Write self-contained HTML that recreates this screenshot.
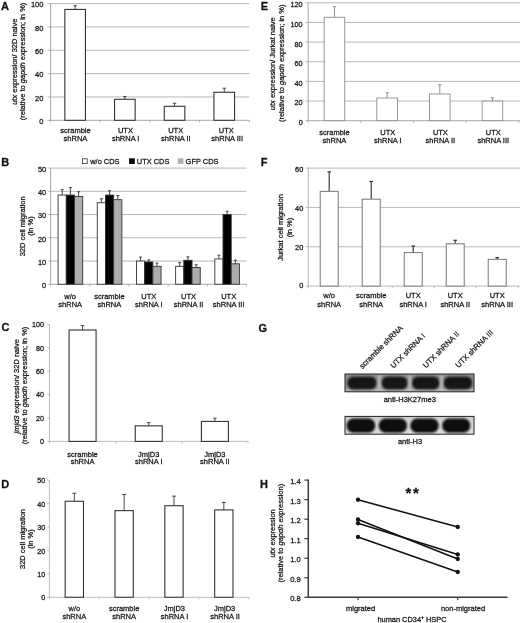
<!DOCTYPE html>
<html><head><meta charset="utf-8"><title>Figure</title>
<style>html,body{margin:0;padding:0;background:#fff}svg{display:block;filter:blur(0.35px)}text{font-family:'Liberation Sans', Arial, sans-serif;stroke:#1a1a1a;stroke-width:0.28px;stroke-linejoin:round}</style>
</head><body>
<svg width="520" height="623" viewBox="0 0 520 623">
<rect width="520" height="623" fill="#fff"/>
<text x="0.90" y="10.10" font-size="11" text-anchor="start" font-weight="bold" fill="#111" >A</text>
<text x="43.30" y="124.15" font-size="7.4" text-anchor="end" font-weight="normal" fill="#1a1a1a" >0</text>
<line x1="47.50" y1="96.96" x2="249.40" y2="96.96" stroke="#b8b8b8" stroke-width="1" />
<text x="43.30" y="100.81" font-size="7.4" text-anchor="end" font-weight="normal" fill="#1a1a1a" >20</text>
<line x1="47.50" y1="73.62" x2="249.40" y2="73.62" stroke="#b8b8b8" stroke-width="1" />
<text x="43.30" y="77.47" font-size="7.4" text-anchor="end" font-weight="normal" fill="#1a1a1a" >40</text>
<line x1="47.50" y1="50.28" x2="249.40" y2="50.28" stroke="#b8b8b8" stroke-width="1" />
<text x="43.30" y="54.13" font-size="7.4" text-anchor="end" font-weight="normal" fill="#1a1a1a" >60</text>
<line x1="47.50" y1="26.94" x2="249.40" y2="26.94" stroke="#b8b8b8" stroke-width="1" />
<text x="43.30" y="30.79" font-size="7.4" text-anchor="end" font-weight="normal" fill="#1a1a1a" >80</text>
<line x1="47.50" y1="3.60" x2="249.40" y2="3.60" stroke="#b8b8b8" stroke-width="1" />
<text x="43.30" y="7.45" font-size="7.4" text-anchor="end" font-weight="normal" fill="#1a1a1a" >100</text>
<line x1="50.60" y1="3.60" x2="50.60" y2="120.30" stroke="#a8a8a8" stroke-width="1" />
<line x1="47.50" y1="120.30" x2="249.40" y2="120.30" stroke="#a8a8a8" stroke-width="1" />
<line x1="50.60" y1="120.30" x2="50.60" y2="122.30" stroke="#a8a8a8" stroke-width="1" />
<line x1="100.30" y1="120.30" x2="100.30" y2="122.30" stroke="#a8a8a8" stroke-width="1" />
<line x1="150.00" y1="120.30" x2="150.00" y2="122.30" stroke="#a8a8a8" stroke-width="1" />
<line x1="199.70" y1="120.30" x2="199.70" y2="122.30" stroke="#a8a8a8" stroke-width="1" />
<line x1="249.40" y1="120.30" x2="249.40" y2="122.30" stroke="#a8a8a8" stroke-width="1" />
<line x1="75.15" y1="9.43" x2="75.15" y2="5.70" stroke="#333" stroke-width="0.9" />
<line x1="73.45" y1="5.70" x2="76.85" y2="5.70" stroke="#333" stroke-width="0.9" />
<rect x="64.85" y="9.43" width="20.60" height="110.87" fill="#fff" stroke="#333" stroke-width="1.1"/>
<text x="75.45" y="132.60" font-size="7.5" text-anchor="middle" font-weight="normal" fill="#1a1a1a" >scramble</text>
<text x="75.45" y="140.60" font-size="7.5" text-anchor="middle" font-weight="normal" fill="#1a1a1a" >shRNA</text>
<line x1="124.85" y1="99.29" x2="124.85" y2="96.49" stroke="#333" stroke-width="0.9" />
<line x1="123.15" y1="96.49" x2="126.55" y2="96.49" stroke="#333" stroke-width="0.9" />
<rect x="114.55" y="99.29" width="20.60" height="21.01" fill="#fff" stroke="#333" stroke-width="1.1"/>
<text x="125.45" y="132.60" font-size="7.5" text-anchor="middle" font-weight="normal" fill="#1a1a1a" >UTX</text>
<text x="125.65" y="140.60" font-size="7.5" text-anchor="middle" font-weight="normal" fill="#1a1a1a" >shRNA I</text>
<line x1="174.55" y1="106.30" x2="174.55" y2="103.26" stroke="#333" stroke-width="0.9" />
<line x1="172.85" y1="103.26" x2="176.25" y2="103.26" stroke="#333" stroke-width="0.9" />
<rect x="164.25" y="106.30" width="20.60" height="14.00" fill="#fff" stroke="#333" stroke-width="1.1"/>
<text x="175.65" y="132.60" font-size="7.5" text-anchor="middle" font-weight="normal" fill="#1a1a1a" >UTX</text>
<text x="175.85" y="140.60" font-size="7.5" text-anchor="middle" font-weight="normal" fill="#1a1a1a" >shRNA II</text>
<line x1="224.25" y1="92.29" x2="224.25" y2="88.21" stroke="#333" stroke-width="0.9" />
<line x1="222.55" y1="88.21" x2="225.95" y2="88.21" stroke="#333" stroke-width="0.9" />
<rect x="213.95" y="92.29" width="20.60" height="28.01" fill="#fff" stroke="#333" stroke-width="1.1"/>
<text x="226.25" y="132.60" font-size="7.5" text-anchor="middle" font-weight="normal" fill="#1a1a1a" >UTX</text>
<text x="227.15" y="140.60" font-size="7.5" text-anchor="middle" font-weight="normal" fill="#1a1a1a" >shRNA III</text>
<text transform="translate(16.80,61.70) rotate(-90)" font-size="7.5" text-anchor="middle" fill="#1a1a1a"><tspan font-style="italic">utx</tspan> expression/ 32D naive</text>
<text transform="translate(24.90,61.50) rotate(-90)" font-size="7.5" text-anchor="middle" fill="#1a1a1a">(relative to <tspan font-style="italic">gapdh</tspan> expression; in %)</text>
<text x="1.30" y="165.70" font-size="11" text-anchor="start" font-weight="bold" fill="#111" >B</text>
<text x="46.20" y="288.15" font-size="7.4" text-anchor="end" font-weight="normal" fill="#1a1a1a" >0</text>
<line x1="48.10" y1="261.02" x2="246.50" y2="261.02" stroke="#b8b8b8" stroke-width="1" />
<text x="46.20" y="264.92" font-size="7.4" text-anchor="end" font-weight="normal" fill="#1a1a1a" >10</text>
<line x1="48.10" y1="237.79" x2="246.50" y2="237.79" stroke="#b8b8b8" stroke-width="1" />
<text x="46.20" y="241.69" font-size="7.4" text-anchor="end" font-weight="normal" fill="#1a1a1a" >20</text>
<line x1="48.10" y1="214.56" x2="246.50" y2="214.56" stroke="#b8b8b8" stroke-width="1" />
<text x="46.20" y="218.46" font-size="7.4" text-anchor="end" font-weight="normal" fill="#1a1a1a" >30</text>
<line x1="48.10" y1="191.33" x2="246.50" y2="191.33" stroke="#b8b8b8" stroke-width="1" />
<text x="46.20" y="195.23" font-size="7.4" text-anchor="end" font-weight="normal" fill="#1a1a1a" >40</text>
<line x1="48.10" y1="168.10" x2="246.50" y2="168.10" stroke="#b8b8b8" stroke-width="1" />
<text x="46.20" y="172.00" font-size="7.4" text-anchor="end" font-weight="normal" fill="#1a1a1a" >50</text>
<line x1="50.60" y1="168.10" x2="50.60" y2="284.25" stroke="#a8a8a8" stroke-width="1" />
<line x1="48.10" y1="284.25" x2="246.50" y2="284.25" stroke="#a8a8a8" stroke-width="1" />
<line x1="50.60" y1="284.25" x2="50.60" y2="286.25" stroke="#a8a8a8" stroke-width="1" />
<line x1="89.78" y1="284.25" x2="89.78" y2="286.25" stroke="#a8a8a8" stroke-width="1" />
<line x1="128.96" y1="284.25" x2="128.96" y2="286.25" stroke="#a8a8a8" stroke-width="1" />
<line x1="168.14" y1="284.25" x2="168.14" y2="286.25" stroke="#a8a8a8" stroke-width="1" />
<line x1="207.32" y1="284.25" x2="207.32" y2="286.25" stroke="#a8a8a8" stroke-width="1" />
<line x1="246.50" y1="284.25" x2="246.50" y2="286.25" stroke="#a8a8a8" stroke-width="1" />
<line x1="62.19" y1="195.05" x2="62.19" y2="189.70" stroke="#333" stroke-width="0.9" />
<line x1="60.69" y1="189.70" x2="63.69" y2="189.70" stroke="#333" stroke-width="0.9" />
<rect x="58.09" y="195.05" width="8.20" height="89.20" fill="#fff" stroke="#333" stroke-width="0.9"/>
<line x1="70.39" y1="195.05" x2="70.39" y2="187.61" stroke="#333" stroke-width="0.9" />
<line x1="68.89" y1="187.61" x2="71.89" y2="187.61" stroke="#333" stroke-width="0.9" />
<rect x="66.29" y="195.05" width="8.20" height="89.20" fill="#000" stroke="#333" stroke-width="0.9"/>
<line x1="78.59" y1="196.44" x2="78.59" y2="191.79" stroke="#333" stroke-width="0.9" />
<line x1="77.09" y1="191.79" x2="80.09" y2="191.79" stroke="#333" stroke-width="0.9" />
<rect x="74.49" y="196.44" width="8.20" height="87.81" fill="#adadad" stroke="#333" stroke-width="0.9"/>
<text x="70.19" y="298.80" font-size="7.5" text-anchor="middle" font-weight="normal" fill="#1a1a1a" >w/o</text>
<text x="70.19" y="307.10" font-size="7.5" text-anchor="middle" font-weight="normal" fill="#1a1a1a" >shRNA</text>
<line x1="101.37" y1="202.71" x2="101.37" y2="198.76" stroke="#333" stroke-width="0.9" />
<line x1="99.87" y1="198.76" x2="102.87" y2="198.76" stroke="#333" stroke-width="0.9" />
<rect x="97.27" y="202.71" width="8.20" height="81.54" fill="#fff" stroke="#333" stroke-width="0.9"/>
<line x1="109.57" y1="195.05" x2="109.57" y2="190.75" stroke="#333" stroke-width="0.9" />
<line x1="108.07" y1="190.75" x2="111.07" y2="190.75" stroke="#333" stroke-width="0.9" />
<rect x="105.47" y="195.05" width="8.20" height="89.20" fill="#000" stroke="#333" stroke-width="0.9"/>
<line x1="117.77" y1="199.69" x2="117.77" y2="195.51" stroke="#333" stroke-width="0.9" />
<line x1="116.27" y1="195.51" x2="119.27" y2="195.51" stroke="#333" stroke-width="0.9" />
<rect x="113.67" y="199.69" width="8.20" height="84.56" fill="#adadad" stroke="#333" stroke-width="0.9"/>
<text x="109.37" y="298.80" font-size="7.5" text-anchor="middle" font-weight="normal" fill="#1a1a1a" >scramble</text>
<text x="109.37" y="307.10" font-size="7.5" text-anchor="middle" font-weight="normal" fill="#1a1a1a" >shRNA</text>
<line x1="140.55" y1="261.02" x2="140.55" y2="257.07" stroke="#333" stroke-width="0.9" />
<line x1="139.05" y1="257.07" x2="142.05" y2="257.07" stroke="#333" stroke-width="0.9" />
<rect x="136.45" y="261.02" width="8.20" height="23.23" fill="#fff" stroke="#333" stroke-width="0.9"/>
<line x1="148.75" y1="261.95" x2="148.75" y2="259.86" stroke="#333" stroke-width="0.9" />
<line x1="147.25" y1="259.86" x2="150.25" y2="259.86" stroke="#333" stroke-width="0.9" />
<rect x="144.65" y="261.95" width="8.20" height="22.30" fill="#000" stroke="#333" stroke-width="0.9"/>
<line x1="156.95" y1="266.36" x2="156.95" y2="263.11" stroke="#333" stroke-width="0.9" />
<line x1="155.45" y1="263.11" x2="158.45" y2="263.11" stroke="#333" stroke-width="0.9" />
<rect x="152.85" y="266.36" width="8.20" height="17.89" fill="#adadad" stroke="#333" stroke-width="0.9"/>
<text x="148.85" y="298.80" font-size="7.5" text-anchor="middle" font-weight="normal" fill="#1a1a1a" >UTX</text>
<text x="148.85" y="307.10" font-size="7.5" text-anchor="middle" font-weight="normal" fill="#1a1a1a" >shRNA I</text>
<line x1="179.73" y1="266.36" x2="179.73" y2="262.65" stroke="#333" stroke-width="0.9" />
<line x1="178.23" y1="262.65" x2="181.23" y2="262.65" stroke="#333" stroke-width="0.9" />
<rect x="175.63" y="266.36" width="8.20" height="17.89" fill="#fff" stroke="#333" stroke-width="0.9"/>
<line x1="187.93" y1="260.32" x2="187.93" y2="256.84" stroke="#333" stroke-width="0.9" />
<line x1="186.43" y1="256.84" x2="189.43" y2="256.84" stroke="#333" stroke-width="0.9" />
<rect x="183.83" y="260.32" width="8.20" height="23.93" fill="#000" stroke="#333" stroke-width="0.9"/>
<line x1="196.13" y1="267.52" x2="196.13" y2="264.74" stroke="#333" stroke-width="0.9" />
<line x1="194.63" y1="264.74" x2="197.63" y2="264.74" stroke="#333" stroke-width="0.9" />
<rect x="192.03" y="267.52" width="8.20" height="16.73" fill="#adadad" stroke="#333" stroke-width="0.9"/>
<text x="188.53" y="298.80" font-size="7.5" text-anchor="middle" font-weight="normal" fill="#1a1a1a" >UTX</text>
<text x="188.53" y="307.10" font-size="7.5" text-anchor="middle" font-weight="normal" fill="#1a1a1a" >shRNA II</text>
<line x1="218.91" y1="258.93" x2="218.91" y2="255.21" stroke="#333" stroke-width="0.9" />
<line x1="217.41" y1="255.21" x2="220.41" y2="255.21" stroke="#333" stroke-width="0.9" />
<rect x="214.81" y="258.93" width="8.20" height="25.32" fill="#fff" stroke="#333" stroke-width="0.9"/>
<line x1="227.11" y1="214.56" x2="227.11" y2="211.31" stroke="#333" stroke-width="0.9" />
<line x1="225.61" y1="211.31" x2="228.61" y2="211.31" stroke="#333" stroke-width="0.9" />
<rect x="223.01" y="214.56" width="8.20" height="69.69" fill="#000" stroke="#333" stroke-width="0.9"/>
<line x1="235.31" y1="263.81" x2="235.31" y2="260.09" stroke="#333" stroke-width="0.9" />
<line x1="233.81" y1="260.09" x2="236.81" y2="260.09" stroke="#333" stroke-width="0.9" />
<rect x="231.21" y="263.81" width="8.20" height="20.44" fill="#adadad" stroke="#333" stroke-width="0.9"/>
<text x="228.71" y="298.80" font-size="7.5" text-anchor="middle" font-weight="normal" fill="#1a1a1a" >UTX</text>
<text x="228.71" y="307.10" font-size="7.5" text-anchor="middle" font-weight="normal" fill="#1a1a1a" >shRNA III</text>
<rect x="82.40" y="158.80" width="4.80" height="4.80" fill="#fff" stroke="#333" stroke-width="0.8"/>
<text x="90.20" y="163.90" font-size="7.45" text-anchor="start" font-weight="normal" fill="#1a1a1a" >w/o CDS</text>
<rect x="129.50" y="158.80" width="4.80" height="4.80" fill="#000" stroke="#000" stroke-width="0.8"/>
<text x="136.80" y="163.90" font-size="7.45" text-anchor="start" font-weight="normal" fill="#1a1a1a" >UTX CDS</text>
<rect x="178.20" y="158.80" width="4.80" height="4.80" fill="#b0b0b0" stroke="#b0b0b0" stroke-width="0.8"/>
<text x="185.60" y="163.90" font-size="7.45" text-anchor="start" font-weight="normal" fill="#1a1a1a" >GFP CDS</text>
<text transform="translate(24.60,226.30) rotate(-90)" font-size="7.5" text-anchor="middle" fill="#1a1a1a">32D cell migration</text>
<text transform="translate(33.10,226.00) rotate(-90)" font-size="7.5" text-anchor="middle" fill="#1a1a1a">(in %)</text>
<text x="1.50" y="331.40" font-size="11" text-anchor="start" font-weight="bold" fill="#111" >C</text>
<text x="43.90" y="444.15" font-size="7.2" text-anchor="end" font-weight="normal" fill="#1a1a1a" >0</text>
<line x1="47.30" y1="418.02" x2="49.50" y2="418.02" stroke="#bdbdbd" stroke-width="1" />
<text x="43.90" y="420.77" font-size="7.2" text-anchor="end" font-weight="normal" fill="#1a1a1a" >20</text>
<line x1="47.30" y1="394.64" x2="49.50" y2="394.64" stroke="#bdbdbd" stroke-width="1" />
<text x="43.90" y="397.39" font-size="7.2" text-anchor="end" font-weight="normal" fill="#1a1a1a" >40</text>
<line x1="47.30" y1="371.26" x2="49.50" y2="371.26" stroke="#bdbdbd" stroke-width="1" />
<text x="43.90" y="374.01" font-size="7.2" text-anchor="end" font-weight="normal" fill="#1a1a1a" >60</text>
<line x1="47.30" y1="347.88" x2="49.50" y2="347.88" stroke="#bdbdbd" stroke-width="1" />
<text x="43.90" y="350.63" font-size="7.2" text-anchor="end" font-weight="normal" fill="#1a1a1a" >80</text>
<line x1="47.30" y1="324.50" x2="49.50" y2="324.50" stroke="#bdbdbd" stroke-width="1" />
<text x="43.90" y="327.25" font-size="7.2" text-anchor="end" font-weight="normal" fill="#1a1a1a" >100</text>
<line x1="49.50" y1="324.50" x2="49.50" y2="441.40" stroke="#bdbdbd" stroke-width="1" />
<line x1="47.30" y1="441.40" x2="248.00" y2="441.40" stroke="#bdbdbd" stroke-width="1" />
<line x1="49.50" y1="441.40" x2="49.50" y2="443.40" stroke="#bdbdbd" stroke-width="1" />
<line x1="115.67" y1="441.40" x2="115.67" y2="443.40" stroke="#bdbdbd" stroke-width="1" />
<line x1="181.83" y1="441.40" x2="181.83" y2="443.40" stroke="#bdbdbd" stroke-width="1" />
<line x1="248.00" y1="441.40" x2="248.00" y2="443.40" stroke="#bdbdbd" stroke-width="1" />
<line x1="82.58" y1="329.99" x2="82.58" y2="325.55" stroke="#333" stroke-width="0.9" />
<line x1="80.88" y1="325.55" x2="84.28" y2="325.55" stroke="#333" stroke-width="0.9" />
<rect x="69.08" y="329.99" width="27.00" height="111.41" fill="#fff" stroke="#333" stroke-width="1.1"/>
<text x="82.58" y="456.80" font-size="7.5" text-anchor="middle" font-weight="normal" fill="#1a1a1a" >scramble</text>
<text x="82.58" y="464.40" font-size="7.5" text-anchor="middle" font-weight="normal" fill="#1a1a1a" >shRNA</text>
<line x1="148.75" y1="425.85" x2="148.75" y2="422.58" stroke="#333" stroke-width="0.9" />
<line x1="147.05" y1="422.58" x2="150.45" y2="422.58" stroke="#333" stroke-width="0.9" />
<rect x="135.25" y="425.85" width="27.00" height="15.55" fill="#fff" stroke="#333" stroke-width="1.1"/>
<text x="148.75" y="456.80" font-size="7.5" text-anchor="middle" font-weight="normal" fill="#1a1a1a" >JmjD3</text>
<text x="148.75" y="464.40" font-size="7.5" text-anchor="middle" font-weight="normal" fill="#1a1a1a" >shRNA I</text>
<line x1="214.92" y1="421.41" x2="214.92" y2="418.14" stroke="#333" stroke-width="0.9" />
<line x1="213.22" y1="418.14" x2="216.62" y2="418.14" stroke="#333" stroke-width="0.9" />
<rect x="201.42" y="421.41" width="27.00" height="19.99" fill="#fff" stroke="#333" stroke-width="1.1"/>
<text x="214.92" y="456.80" font-size="7.5" text-anchor="middle" font-weight="normal" fill="#1a1a1a" >JmjD3</text>
<text x="214.92" y="464.40" font-size="7.5" text-anchor="middle" font-weight="normal" fill="#1a1a1a" >shRNA II</text>
<text transform="translate(18.50,386.30) rotate(-90)" font-size="7.5" text-anchor="middle" fill="#1a1a1a"><tspan font-style="italic">jmjd3</tspan> expression/ 32D naive</text>
<text transform="translate(27.10,385.50) rotate(-90)" font-size="7.5" text-anchor="middle" fill="#1a1a1a">(relative to <tspan font-style="italic">gapdh</tspan> expression; in %)</text>
<text x="1.20" y="488.00" font-size="11" text-anchor="start" font-weight="bold" fill="#111" >D</text>
<text x="45.20" y="600.35" font-size="7.2" text-anchor="end" font-weight="normal" fill="#1a1a1a" >0</text>
<line x1="47.20" y1="573.84" x2="49.40" y2="573.84" stroke="#bdbdbd" stroke-width="1" />
<text x="45.20" y="576.94" font-size="7.2" text-anchor="end" font-weight="normal" fill="#1a1a1a" >10</text>
<line x1="47.20" y1="550.43" x2="49.40" y2="550.43" stroke="#bdbdbd" stroke-width="1" />
<text x="45.20" y="553.53" font-size="7.2" text-anchor="end" font-weight="normal" fill="#1a1a1a" >20</text>
<line x1="47.20" y1="527.02" x2="49.40" y2="527.02" stroke="#bdbdbd" stroke-width="1" />
<text x="45.20" y="530.12" font-size="7.2" text-anchor="end" font-weight="normal" fill="#1a1a1a" >30</text>
<line x1="47.20" y1="503.61" x2="49.40" y2="503.61" stroke="#bdbdbd" stroke-width="1" />
<text x="45.20" y="506.71" font-size="7.2" text-anchor="end" font-weight="normal" fill="#1a1a1a" >40</text>
<line x1="47.20" y1="480.20" x2="49.40" y2="480.20" stroke="#bdbdbd" stroke-width="1" />
<text x="45.20" y="483.30" font-size="7.2" text-anchor="end" font-weight="normal" fill="#1a1a1a" >50</text>
<line x1="49.40" y1="480.20" x2="49.40" y2="597.25" stroke="#bdbdbd" stroke-width="1" />
<line x1="47.20" y1="597.25" x2="248.75" y2="597.25" stroke="#bdbdbd" stroke-width="1" />
<line x1="49.40" y1="597.25" x2="49.40" y2="599.25" stroke="#bdbdbd" stroke-width="1" />
<line x1="99.24" y1="597.25" x2="99.24" y2="599.25" stroke="#bdbdbd" stroke-width="1" />
<line x1="149.07" y1="597.25" x2="149.07" y2="599.25" stroke="#bdbdbd" stroke-width="1" />
<line x1="198.91" y1="597.25" x2="198.91" y2="599.25" stroke="#bdbdbd" stroke-width="1" />
<line x1="248.75" y1="597.25" x2="248.75" y2="599.25" stroke="#bdbdbd" stroke-width="1" />
<line x1="74.32" y1="501.27" x2="74.32" y2="493.31" stroke="#333" stroke-width="0.9" />
<line x1="72.32" y1="493.31" x2="76.32" y2="493.31" stroke="#333" stroke-width="0.9" />
<rect x="65.17" y="501.27" width="18.30" height="95.98" fill="#fff" stroke="#333" stroke-width="1.1"/>
<text x="74.32" y="610.80" font-size="7.5" text-anchor="middle" font-weight="normal" fill="#1a1a1a" >w/o</text>
<text x="74.32" y="618.80" font-size="7.5" text-anchor="middle" font-weight="normal" fill="#1a1a1a" >shRNA</text>
<line x1="124.16" y1="510.63" x2="124.16" y2="494.48" stroke="#333" stroke-width="0.9" />
<line x1="122.16" y1="494.48" x2="126.16" y2="494.48" stroke="#333" stroke-width="0.9" />
<rect x="115.01" y="510.63" width="18.30" height="86.62" fill="#fff" stroke="#333" stroke-width="1.1"/>
<text x="124.16" y="610.80" font-size="7.5" text-anchor="middle" font-weight="normal" fill="#1a1a1a" >scramble</text>
<text x="124.16" y="618.80" font-size="7.5" text-anchor="middle" font-weight="normal" fill="#1a1a1a" >shRNA</text>
<line x1="173.99" y1="505.72" x2="173.99" y2="496.12" stroke="#333" stroke-width="0.9" />
<line x1="171.99" y1="496.12" x2="175.99" y2="496.12" stroke="#333" stroke-width="0.9" />
<rect x="164.84" y="505.72" width="18.30" height="91.53" fill="#fff" stroke="#333" stroke-width="1.1"/>
<text x="174.39" y="610.80" font-size="7.5" text-anchor="middle" font-weight="normal" fill="#1a1a1a" >JmjD3</text>
<text x="174.49" y="618.80" font-size="7.5" text-anchor="middle" font-weight="normal" fill="#1a1a1a" >shRNA I</text>
<line x1="223.83" y1="509.93" x2="223.83" y2="502.44" stroke="#333" stroke-width="0.9" />
<line x1="221.83" y1="502.44" x2="225.83" y2="502.44" stroke="#333" stroke-width="0.9" />
<rect x="214.68" y="509.93" width="18.30" height="87.32" fill="#fff" stroke="#333" stroke-width="1.1"/>
<text x="224.63" y="610.80" font-size="7.5" text-anchor="middle" font-weight="normal" fill="#1a1a1a" >JmjD3</text>
<text x="225.03" y="618.80" font-size="7.5" text-anchor="middle" font-weight="normal" fill="#1a1a1a" >shRNA II</text>
<text transform="translate(24.80,539.00) rotate(-90)" font-size="7.5" text-anchor="middle" fill="#1a1a1a">32D cell migration</text>
<text transform="translate(33.00,539.00) rotate(-90)" font-size="7.5" text-anchor="middle" fill="#1a1a1a">(in %)</text>
<text x="260.80" y="9.90" font-size="11" text-anchor="start" font-weight="bold" fill="#111" >E</text>
<text x="302.70" y="125.10" font-size="7.3" text-anchor="end" font-weight="normal" fill="#1a1a1a" >0</text>
<line x1="305.55" y1="101.05" x2="520.00" y2="101.05" stroke="#b8b8b8" stroke-width="1" />
<text x="302.70" y="105.45" font-size="7.3" text-anchor="end" font-weight="normal" fill="#1a1a1a" >20</text>
<line x1="305.55" y1="81.40" x2="520.00" y2="81.40" stroke="#b8b8b8" stroke-width="1" />
<text x="302.70" y="85.80" font-size="7.3" text-anchor="end" font-weight="normal" fill="#1a1a1a" >40</text>
<line x1="305.55" y1="61.75" x2="520.00" y2="61.75" stroke="#b8b8b8" stroke-width="1" />
<text x="302.70" y="66.15" font-size="7.3" text-anchor="end" font-weight="normal" fill="#1a1a1a" >60</text>
<line x1="305.55" y1="42.10" x2="520.00" y2="42.10" stroke="#b8b8b8" stroke-width="1" />
<text x="302.70" y="46.50" font-size="7.3" text-anchor="end" font-weight="normal" fill="#1a1a1a" >80</text>
<line x1="305.55" y1="22.45" x2="520.00" y2="22.45" stroke="#b8b8b8" stroke-width="1" />
<text x="302.70" y="26.85" font-size="7.3" text-anchor="end" font-weight="normal" fill="#1a1a1a" >100</text>
<line x1="305.55" y1="2.80" x2="520.00" y2="2.80" stroke="#b8b8b8" stroke-width="1" />
<text x="302.70" y="7.20" font-size="7.3" text-anchor="end" font-weight="normal" fill="#1a1a1a" >120</text>
<line x1="308.15" y1="2.80" x2="308.15" y2="120.70" stroke="#a8a8a8" stroke-width="1" />
<line x1="305.55" y1="120.70" x2="520.00" y2="120.70" stroke="#a8a8a8" stroke-width="1" />
<line x1="308.15" y1="120.70" x2="308.15" y2="122.70" stroke="#a8a8a8" stroke-width="1" />
<line x1="360.80" y1="120.70" x2="360.80" y2="122.70" stroke="#a8a8a8" stroke-width="1" />
<line x1="413.45" y1="120.70" x2="413.45" y2="122.70" stroke="#a8a8a8" stroke-width="1" />
<line x1="466.10" y1="120.70" x2="466.10" y2="122.70" stroke="#a8a8a8" stroke-width="1" />
<line x1="518.75" y1="120.70" x2="518.75" y2="122.70" stroke="#a8a8a8" stroke-width="1" />
<line x1="334.47" y1="17.24" x2="334.47" y2="6.73" stroke="#858585" stroke-width="0.9" />
<line x1="332.77" y1="6.73" x2="336.17" y2="6.73" stroke="#858585" stroke-width="0.9" />
<rect x="324.17" y="17.24" width="20.60" height="103.46" fill="#fff" stroke="#858585" stroke-width="0.85"/>
<text x="334.47" y="134.70" font-size="7.5" text-anchor="middle" font-weight="normal" fill="#1a1a1a" >scramble</text>
<text x="334.47" y="143.20" font-size="7.5" text-anchor="middle" font-weight="normal" fill="#1a1a1a" >shRNA</text>
<line x1="387.12" y1="98.00" x2="387.12" y2="92.80" stroke="#858585" stroke-width="0.9" />
<line x1="385.43" y1="92.80" x2="388.82" y2="92.80" stroke="#858585" stroke-width="0.9" />
<rect x="376.82" y="98.00" width="20.60" height="22.70" fill="#fff" stroke="#858585" stroke-width="0.85"/>
<text x="387.82" y="134.70" font-size="7.5" text-anchor="middle" font-weight="normal" fill="#1a1a1a" >UTX</text>
<text x="387.82" y="143.20" font-size="7.5" text-anchor="middle" font-weight="normal" fill="#1a1a1a" >shRNA I</text>
<line x1="439.77" y1="93.98" x2="439.77" y2="84.74" stroke="#858585" stroke-width="0.9" />
<line x1="438.07" y1="84.74" x2="441.47" y2="84.74" stroke="#858585" stroke-width="0.9" />
<rect x="429.47" y="93.98" width="20.60" height="26.72" fill="#fff" stroke="#858585" stroke-width="0.85"/>
<text x="440.38" y="134.70" font-size="7.5" text-anchor="middle" font-weight="normal" fill="#1a1a1a" >UTX</text>
<text x="440.38" y="143.20" font-size="7.5" text-anchor="middle" font-weight="normal" fill="#1a1a1a" >shRNA II</text>
<line x1="492.43" y1="101.05" x2="492.43" y2="97.81" stroke="#858585" stroke-width="0.9" />
<line x1="490.73" y1="97.81" x2="494.12" y2="97.81" stroke="#858585" stroke-width="0.9" />
<rect x="482.12" y="101.05" width="20.60" height="19.65" fill="#fff" stroke="#858585" stroke-width="0.85"/>
<text x="493.23" y="134.70" font-size="7.5" text-anchor="middle" font-weight="normal" fill="#1a1a1a" >UTX</text>
<text x="493.23" y="143.20" font-size="7.5" text-anchor="middle" font-weight="normal" fill="#1a1a1a" >shRNA III</text>
<text transform="translate(275.10,63.70) rotate(-90)" font-size="7.5" text-anchor="middle" fill="#1a1a1a"><tspan font-style="italic">utx</tspan> expression/ Jurkat naive</text>
<text transform="translate(283.90,63.30) rotate(-90)" font-size="7.5" text-anchor="middle" fill="#1a1a1a">(relative to <tspan font-style="italic">gapdh</tspan> expression; in %)</text>
<text x="260.80" y="165.80" font-size="11" text-anchor="start" font-weight="bold" fill="#111" >F</text>
<text x="303.30" y="287.50" font-size="7.4" text-anchor="end" font-weight="normal" fill="#1a1a1a" >0</text>
<line x1="305.80" y1="246.77" x2="520.00" y2="246.77" stroke="#b8b8b8" stroke-width="1" />
<text x="303.30" y="250.22" font-size="7.4" text-anchor="end" font-weight="normal" fill="#1a1a1a" >20</text>
<line x1="305.80" y1="207.43" x2="520.00" y2="207.43" stroke="#b8b8b8" stroke-width="1" />
<text x="303.30" y="210.88" font-size="7.4" text-anchor="end" font-weight="normal" fill="#1a1a1a" >40</text>
<line x1="305.80" y1="168.10" x2="520.00" y2="168.10" stroke="#b8b8b8" stroke-width="1" />
<text x="303.30" y="171.55" font-size="7.4" text-anchor="end" font-weight="normal" fill="#1a1a1a" >60</text>
<line x1="308.20" y1="168.10" x2="308.20" y2="286.10" stroke="#b8b8b8" stroke-width="1" />
<line x1="305.80" y1="286.10" x2="520.00" y2="286.10" stroke="#b8b8b8" stroke-width="1" />
<line x1="308.20" y1="286.10" x2="308.20" y2="288.10" stroke="#b8b8b8" stroke-width="1" />
<line x1="350.20" y1="286.10" x2="350.20" y2="288.10" stroke="#b8b8b8" stroke-width="1" />
<line x1="392.20" y1="286.10" x2="392.20" y2="288.10" stroke="#b8b8b8" stroke-width="1" />
<line x1="434.20" y1="286.10" x2="434.20" y2="288.10" stroke="#b8b8b8" stroke-width="1" />
<line x1="476.20" y1="286.10" x2="476.20" y2="288.10" stroke="#b8b8b8" stroke-width="1" />
<line x1="518.20" y1="286.10" x2="518.20" y2="288.10" stroke="#b8b8b8" stroke-width="1" />
<line x1="329.20" y1="191.31" x2="329.20" y2="171.84" stroke="#2a2a2a" stroke-width="1.1" />
<line x1="327.40" y1="171.84" x2="331.00" y2="171.84" stroke="#2a2a2a" stroke-width="1.1" />
<rect x="320.20" y="191.31" width="18.00" height="94.79" fill="#fff" stroke="#686868" stroke-width="0.9"/>
<text x="329.20" y="298.40" font-size="7.5" text-anchor="middle" font-weight="normal" fill="#1a1a1a" >w/o</text>
<text x="329.20" y="306.70" font-size="7.5" text-anchor="middle" font-weight="normal" fill="#1a1a1a" >shRNA</text>
<line x1="371.20" y1="199.17" x2="371.20" y2="181.47" stroke="#2a2a2a" stroke-width="1.1" />
<line x1="369.40" y1="181.47" x2="373.00" y2="181.47" stroke="#2a2a2a" stroke-width="1.1" />
<rect x="362.20" y="199.17" width="18.00" height="86.93" fill="#fff" stroke="#686868" stroke-width="0.9"/>
<text x="371.20" y="298.40" font-size="7.5" text-anchor="middle" font-weight="normal" fill="#1a1a1a" >scramble</text>
<text x="371.20" y="306.70" font-size="7.5" text-anchor="middle" font-weight="normal" fill="#1a1a1a" >shRNA</text>
<line x1="413.20" y1="252.67" x2="413.20" y2="245.98" stroke="#2a2a2a" stroke-width="1.1" />
<line x1="411.40" y1="245.98" x2="415.00" y2="245.98" stroke="#2a2a2a" stroke-width="1.1" />
<rect x="404.20" y="252.67" width="18.00" height="33.43" fill="#fff" stroke="#686868" stroke-width="0.9"/>
<text x="413.20" y="298.40" font-size="7.5" text-anchor="middle" font-weight="normal" fill="#1a1a1a" >UTX</text>
<text x="413.20" y="306.70" font-size="7.5" text-anchor="middle" font-weight="normal" fill="#1a1a1a" >shRNA I</text>
<line x1="455.20" y1="243.82" x2="455.20" y2="240.28" stroke="#2a2a2a" stroke-width="1.1" />
<line x1="453.40" y1="240.28" x2="457.00" y2="240.28" stroke="#2a2a2a" stroke-width="1.1" />
<rect x="446.20" y="243.82" width="18.00" height="42.28" fill="#fff" stroke="#686868" stroke-width="0.9"/>
<text x="455.20" y="298.40" font-size="7.5" text-anchor="middle" font-weight="normal" fill="#1a1a1a" >UTX</text>
<text x="455.20" y="306.70" font-size="7.5" text-anchor="middle" font-weight="normal" fill="#1a1a1a" >shRNA II</text>
<line x1="497.20" y1="259.35" x2="497.20" y2="257.58" stroke="#2a2a2a" stroke-width="1.1" />
<line x1="495.40" y1="257.58" x2="499.00" y2="257.58" stroke="#2a2a2a" stroke-width="1.1" />
<rect x="488.20" y="259.35" width="18.00" height="26.75" fill="#fff" stroke="#686868" stroke-width="0.9"/>
<text x="497.20" y="298.40" font-size="7.5" text-anchor="middle" font-weight="normal" fill="#1a1a1a" >UTX</text>
<text x="497.20" y="306.70" font-size="7.5" text-anchor="middle" font-weight="normal" fill="#1a1a1a" >shRNA III</text>
<text transform="translate(283.40,227.50) rotate(-90)" font-size="7.5" text-anchor="middle" fill="#1a1a1a">Jurkat cell migration</text>
<text transform="translate(291.90,227.50) rotate(-90)" font-size="7.5" text-anchor="middle" fill="#1a1a1a">(in %)</text>
<text x="258.60" y="331.80" font-size="11" text-anchor="start" font-weight="bold" fill="#111" >G</text>
<defs>
<filter id="bl" x="-10%" y="-30%" width="120%" height="160%"><feGaussianBlur stdDeviation="1.0"/></filter>
<filter id="bl2" x="-200%" y="-30%" width="500%" height="160%"><feGaussianBlur stdDeviation="1.0"/></filter>
<linearGradient id="bg1" x1="0" y1="0" x2="0" y2="1"><stop offset="0" stop-color="#8e8e8e"/><stop offset="0.8" stop-color="#9c9c9c"/><stop offset="1" stop-color="#c0c0c0"/></linearGradient>
<linearGradient id="bg2" x1="0" y1="0" x2="0" y2="1"><stop offset="0" stop-color="#cfcfcf"/><stop offset="1" stop-color="#dcdcdc"/></linearGradient>
<clipPath id="c1"><rect x="345" y="374" width="129" height="17.8"/></clipPath>
<clipPath id="c2"><rect x="345" y="416.4" width="129" height="17.8"/></clipPath>
</defs>
<rect x="345" y="374" width="129" height="17.8" fill="url(#bg1)"/>
<g clip-path="url(#c1)"><g filter="url(#bl)">
<rect x="347.3" y="376.6" width="29.30" height="12.8" rx="6" fill="#141414"/>
<rect x="381.6" y="376.6" width="26.00" height="12.8" rx="6" fill="#141414"/>
<rect x="412.0" y="376.6" width="27.40" height="12.8" rx="6" fill="#141414"/>
<rect x="443.6" y="376.6" width="28.60" height="12.8" rx="6" fill="#141414"/>
</g>
<g filter="url(#bl2)">
<rect x="378.09999999999997" y="375" width="2.2" height="16" fill="#c8c8c8" opacity="0.75"/>
<rect x="408.7" y="375" width="2.2" height="16" fill="#c8c8c8" opacity="0.75"/>
<rect x="440.4" y="375" width="2.2" height="16" fill="#c8c8c8" opacity="0.75"/>
</g></g>
<rect x="345" y="374" width="129" height="17.8" fill="none" stroke="#222" stroke-width="1"/>
<text x="409.75" y="402.40" font-size="7.5" text-anchor="middle" font-weight="normal" fill="#1a1a1a" >anti-H3K27me3</text>
<rect x="345" y="416.4" width="129" height="17.8" fill="url(#bg2)"/>
<g clip-path="url(#c2)"><g filter="url(#bl)">
<rect x="346.6" y="418.4" width="28.60" height="14.4" rx="6.8" fill="#0c0c0c"/>
<rect x="378.8" y="418.4" width="28.20" height="14.4" rx="6.8" fill="#0c0c0c"/>
<rect x="410.4" y="418.4" width="28.20" height="14.4" rx="6.8" fill="#0c0c0c"/>
<rect x="442.2" y="418.4" width="28.00" height="14.4" rx="6.8" fill="#0c0c0c"/>
</g></g>
<rect x="345" y="416.4" width="129" height="17.8" fill="none" stroke="#222" stroke-width="1"/>
<text x="410.00" y="443.80" font-size="7.5" text-anchor="middle" font-weight="normal" fill="#1a1a1a" >anti-H3</text>
<text transform="translate(362.5,369.3) rotate(-45)" font-size="7.7" fill="#1a1a1a">scramble shRNA</text>
<text transform="translate(393.5,368.7) rotate(-45)" font-size="7.7" fill="#1a1a1a">UTX shRNA I</text>
<text transform="translate(426.0,368.4) rotate(-45)" font-size="7.7" fill="#1a1a1a">UTX shRNA II</text>
<text transform="translate(458.5,368.3) rotate(-45)" font-size="7.7" fill="#1a1a1a">UTX shRNA III</text>
<text x="260.00" y="488.40" font-size="11" text-anchor="start" font-weight="bold" fill="#111" >H</text>
<line x1="308.30" y1="479.50" x2="308.30" y2="598.00" stroke="#3a3a3a" stroke-width="1.5" />
<line x1="308.30" y1="597.30" x2="507.50" y2="597.30" stroke="#3a3a3a" stroke-width="1.4" />
<line x1="304.30" y1="480.10" x2="308.30" y2="480.10" stroke="#3a3a3a" stroke-width="1.2" />
<text x="300.70" y="484.10" font-size="7.6" text-anchor="end" font-weight="normal" fill="#1a1a1a" >1.4</text>
<line x1="304.30" y1="499.63" x2="308.30" y2="499.63" stroke="#3a3a3a" stroke-width="1.2" />
<text x="300.70" y="503.63" font-size="7.6" text-anchor="end" font-weight="normal" fill="#1a1a1a" >1.3</text>
<line x1="304.30" y1="519.17" x2="308.30" y2="519.17" stroke="#3a3a3a" stroke-width="1.2" />
<text x="300.70" y="523.17" font-size="7.6" text-anchor="end" font-weight="normal" fill="#1a1a1a" >1.2</text>
<line x1="304.30" y1="538.70" x2="308.30" y2="538.70" stroke="#3a3a3a" stroke-width="1.2" />
<text x="300.70" y="542.70" font-size="7.6" text-anchor="end" font-weight="normal" fill="#1a1a1a" >1.1</text>
<line x1="304.30" y1="558.23" x2="308.30" y2="558.23" stroke="#3a3a3a" stroke-width="1.2" />
<text x="300.70" y="562.23" font-size="7.6" text-anchor="end" font-weight="normal" fill="#1a1a1a" >1.0</text>
<line x1="304.30" y1="577.77" x2="308.30" y2="577.77" stroke="#3a3a3a" stroke-width="1.2" />
<text x="300.70" y="581.77" font-size="7.6" text-anchor="end" font-weight="normal" fill="#1a1a1a" >0.9</text>
<line x1="304.30" y1="597.30" x2="308.30" y2="597.30" stroke="#3a3a3a" stroke-width="1.2" />
<text x="300.70" y="601.30" font-size="7.6" text-anchor="end" font-weight="normal" fill="#1a1a1a" >0.8</text>
<line x1="358.00" y1="597.30" x2="358.00" y2="600.10" stroke="#3a3a3a" stroke-width="1.2" />
<line x1="457.75" y1="597.30" x2="457.75" y2="600.10" stroke="#3a3a3a" stroke-width="1.2" />
<line x1="358.00" y1="499.75" x2="457.75" y2="527.00" stroke="#111" stroke-width="1.55" />
<circle cx="358.0" cy="499.75" r="2.15" fill="#111"/>
<circle cx="457.75" cy="527.0" r="2.15" fill="#111"/>
<line x1="358.00" y1="519.50" x2="457.75" y2="559.00" stroke="#111" stroke-width="1.55" />
<circle cx="358.0" cy="519.5" r="2.15" fill="#111"/>
<circle cx="457.75" cy="559.0" r="2.15" fill="#111"/>
<line x1="358.00" y1="523.25" x2="457.75" y2="554.50" stroke="#111" stroke-width="1.55" />
<circle cx="358.0" cy="523.25" r="2.15" fill="#111"/>
<circle cx="457.75" cy="554.5" r="2.15" fill="#111"/>
<line x1="358.00" y1="537.00" x2="457.75" y2="572.00" stroke="#111" stroke-width="1.55" />
<circle cx="358.0" cy="537.0" r="2.15" fill="#111"/>
<circle cx="457.75" cy="572.0" r="2.15" fill="#111"/>
<text x="360.60" y="610.80" font-size="7.5" text-anchor="middle" font-weight="normal" fill="#1a1a1a" >migrated</text>
<text x="463.00" y="610.80" font-size="7.5" text-anchor="middle" font-weight="normal" fill="#1a1a1a" >non-migrated</text>
<text x="412.00" y="622.00" font-size="7.4" text-anchor="middle" font-weight="normal" fill="#1a1a1a" >human CD34<tspan font-size="5" dy="-2.6">+</tspan><tspan dy="2.6"> HSPC</tspan></text>
<text x="413.00" y="497.50" font-size="15" text-anchor="middle" font-weight="bold" fill="#111" letter-spacing="1.6">**</text>
<text transform="translate(275.10,533.40) rotate(-90)" font-size="7.5" text-anchor="middle" fill="#1a1a1a"><tspan font-style="italic">utx</tspan> expression</text>
<text transform="translate(282.60,533.20) rotate(-90)" font-size="7.5" text-anchor="middle" fill="#1a1a1a">(relative to <tspan font-style="italic">gapdh</tspan> expression)</text>
</svg></body></html>
